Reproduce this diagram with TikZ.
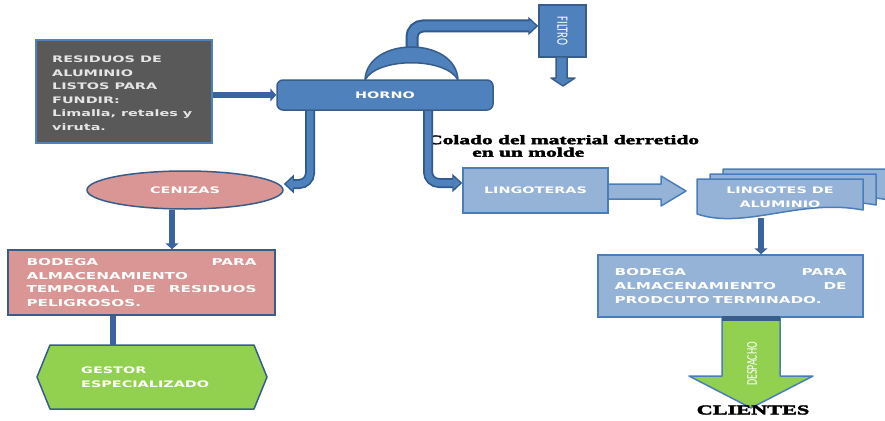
\documentclass[tikz,border=0pt]{standalone}
\usepackage{fontspec}
\usepackage{graphicx}
\usetikzlibrary{shapes.geometric,arrows.meta,backgrounds,calc}
\newfontfamily\wsans{DejaVu Sans}[FakeStretch=1.6]
\newfontfamily\wserif{Liberation Serif}[FakeStretch=1.65, FakeBold=3]
\newfontfamily\thinsans{Carlito}
\definecolor{bF}{HTML}{4F81BD}
\definecolor{bD}{HTML}{385D8A}
\definecolor{lB}{HTML}{95B3D7}
\definecolor{lBD}{HTML}{4A7EBB}
\definecolor{pk}{HTML}{D99694}
\definecolor{gr}{HTML}{92D050}
\definecolor{dk}{HTML}{595959}
\definecolor{ln}{HTML}{3A64A0}
\definecolor{pipeD}{HTML}{30598F}
\begin{document}
\begin{tikzpicture}[x=1pt,y=-1pt,
  box/.style={draw, line width=1.5pt, inner sep=0pt, text=white,
    font=\wsans\bfseries\fontsize{9}{13.5}\selectfont},
  btxt/.style={text=white, inner sep=0pt, font=\wsans\bfseries\fontsize{9}{13.5}\selectfont},
  bodtxt/.style={font=\wsans\bfseries\fontsize{9.5}{13.8}\selectfont, align=left},
  conn/.style={draw=ln, line width=6pt},
  connarr/.style={conn, -{Triangle[width=13pt,length=6pt]}},
  pipeo/.style={draw=pipeD, line width=#1, rounded corners=11pt, -{Triangle[width=18pt,length=10pt]}},
  pipei/.style={draw=bF, line width=#1, rounded corners=11pt, shorten >=2pt, -{Triangle[width=12pt,length=7pt]}},
  shp/.style={line width=1.5pt, line join=round},
]
\useasboundingbox[fill=white] (0,0) rectangle (885,420);

% ---------- raw material box ----------
\node[box, fill=dk, draw=bF, minimum width=176, minimum height=103] (res) at (124,91.5) {};
\node[btxt, anchor=west, align=left, text=white!90!black] (restxt) at (52,93)
  {RESIDUOS DE\\ALUMINIO\\LISTOS PARA\\FUNDIR:\\Limalla, retales y\\viruta.};

% ---------- top pipe to filter ----------
\node[box, fill=bF, draw=bD, minimum width=47, minimum height=52] (filtro) at (562.5,31) {};
\node[rotate=-90, text=white, font=\thinsans\fontsize{10.5}{12}\selectfont] (filtrotxt) at (filtro.center)
  {\scalebox{1}[1.5]{FILTRO}};
\path[shp, fill=bF, draw=bD] (556,57) -- (567,57) -- (567,78) -- (575,78) -- (563,86)
  -- (551,78) -- (556,78) -- cycle;
\coordinate (domtop) at (412,50);
\draw[pipeo=13pt] (domtop) |- ([yshift=5pt]filtro.west);
\draw[pipei=9pt] (domtop) |- ([yshift=5pt]filtro.west);

% ---------- lower pipes ----------
\coordinate (lp) at (310,0);
\coordinate (rp) at (428,0);
\node[ellipse, shp, draw=bD, fill=pk, minimum width=196, minimum height=38, text=white,
  font=\wsans\bfseries\fontsize{9}{12}\selectfont] (cen) at (185,190) {CENIZAS};
\node[box, fill=lB, draw=lBD, minimum width=145, minimum height=45] (ling) at (535.5,190.5) {LINGOTERAS};

\node[font=\wserif\bfseries\fontsize{13}{12.5}\selectfont, anchor=west, align=left, inner sep=0pt] (colado) at (427,146)
  {Colado del material derretido\\\hspace*{45pt}en un molde};

\draw[pipeo=10pt] (lp |- 0,100) |- ([yshift=6pt]cen.east);
\draw[pipei=6.5pt] (lp |- 0,100) |- ([yshift=6pt]cen.east);
\draw[pipeo=10pt] (rp |- 0,100) |- ([yshift=7.5pt]ling.west);
\draw[pipei=6.5pt] (rp |- 0,100) |- ([yshift=7.5pt]ling.west);

% ---------- furnace ----------
\node[box, rounded corners=6pt, fill=bF, draw=bD, minimum width=216, minimum height=30] (horno) at (385,95) {HORNO};
\path[shp, fill=bF, draw=bD] (365,80) .. controls (367,36) and (456,36) .. (458,80)
  .. controls (446,57) and (377,57) .. (365,80) -- cycle;

\draw[connarr] (res.east |- horno.west) -- (horno.west);

% ---------- hazardous branch ----------
\node[box, fill=pk, draw=bD, text width=230, inner xsep=18.5, minimum height=65, bodtxt] (bod1) at (141.5,282.5)
  {\makebox[230pt][l]{BODEGA\hfill PARA}\\ALMACENAMIENTO\\\makebox[230pt][l]{TEMPORAL\hfill DE\hfill RESIDUOS}\\PELIGROSOS.};
\coordinate (c1) at (172,0);
\draw[connarr] (cen.south -| c1) -- (c1 |- bod1.north);

\path[shp, fill=gr, draw=bD] (37,377) -- (50,345) -- (254,345) -- (267,377) -- (254,409) -- (50,409) -- cycle;
\coordinate (gtop) at (113,346);
\node[btxt, anchor=west, align=left] (gest) at (81,377) {GESTOR\\ESPECIALIZADO};
\draw[conn] (bod1.south -| gtop) -- (gtop);

% ---------- product branch ----------
\path[shp, fill=lB, draw=lBD] (608,184) -- (661,184) -- (661,176) -- (686,191) -- (661,206)
  -- (661,199) -- (608,199) -- cycle;

\foreach \d/\e in {26/-10,13/-5,0/0}{
  \begin{scope}[shift={(\d,\e)}]
    \path[shp, fill=lB, draw=lBD] (697,179) -- (863,179) -- (863,210)
      .. controls (800,198) and (745,230) .. (697,214) -- cycle;
  \end{scope}
}
\node[btxt, align=center] (lingo) at (780,197) {LINGOTES DE\\ALUMINIO};
\coordinate (docb) at (761,218);

\node[box, fill=lB, draw=lBD, text width=232, inner xsep=16.5, minimum height=62, bodtxt] (bod2) at (730.5,286)
  {\makebox[232pt][l]{BODEGA\hfill PARA}\\\makebox[232pt][l]{ALMACENAMIENTO\hfill DE}\\PRODCUTO TERMINADO.};
\draw[connarr] (docb) -- (docb |- bod2.north);

\path[shp, fill=gr, draw=lBD] (722,318) -- (780,318) -- (780,376) -- (813,376) -- (751,408)
  -- (689,376) -- (722,376) -- cycle;
\fill[bD] (722,316) rectangle (780,321);
\node[rotate=90, text=white, font=\thinsans\fontsize{10}{12}\selectfont] (desp) at (752,364)
  {\scalebox{1}[1.5]{DESPACHO}};
\node[font=\wserif\bfseries\fontsize{13.5}{14}\selectfont, inner sep=0pt] (cli) at (753,410) {CLIENTES};
\end{tikzpicture}
\end{document}
